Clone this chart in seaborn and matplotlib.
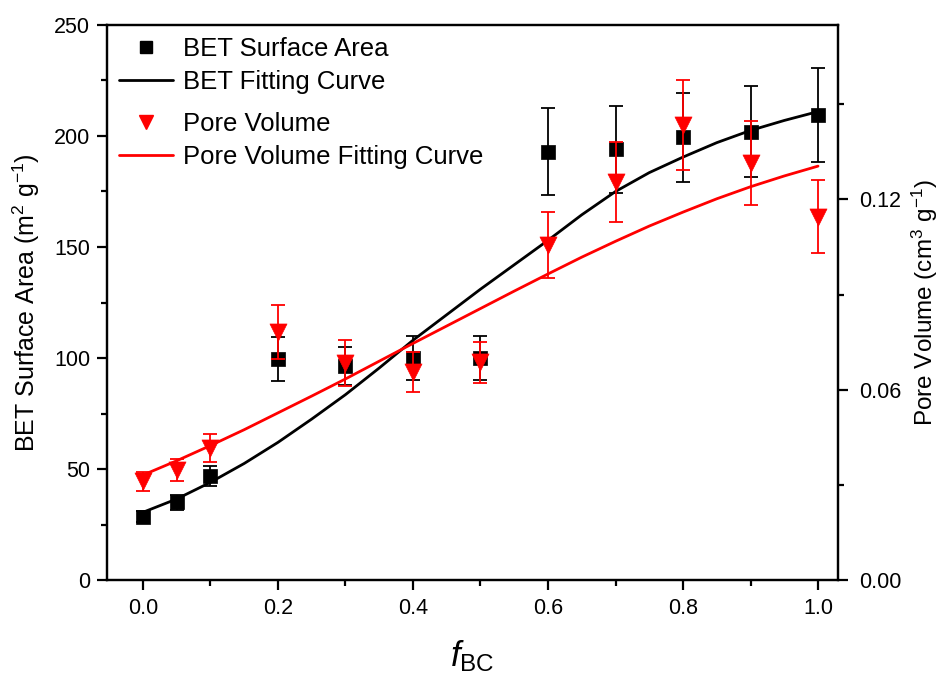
import numpy as np
import pandas as pd
import matplotlib
matplotlib.use("Agg")
import matplotlib.pyplot as plt
from matplotlib.ticker import MultipleLocator, FormatStrFormatter
from matplotlib.lines import Line2D
import seaborn as sns

# ---- data ----
f_bc = [0.0, 0.05, 0.1, 0.2, 0.3, 0.4, 0.5, 0.6, 0.7, 0.8, 0.9, 1.0]
bet_area = [28.5, 35, 47, 99.5, 96.5, 100, 100, 193, 194, 199.5, 202, 209.5]
bet_err = [2.5, 3.5, 4.5, 10, 8.5, 10, 10, 19.5, 19.5, 20, 20.5, 21]
pore_vol = [0.0312, 0.0347, 0.0416, 0.0782, 0.0684, 0.0656, 0.0687, 0.1056, 0.1256, 0.1435, 0.1314, 0.1146]
pore_err = [0.003, 0.0035, 0.0043, 0.0085, 0.0072, 0.0062, 0.0065, 0.0105, 0.0126, 0.0143, 0.0132, 0.0115]

fit_x = [0.0, 0.05, 0.1, 0.15, 0.2, 0.25, 0.3, 0.35, 0.4, 0.45, 0.5,
         0.55, 0.6, 0.65, 0.7, 0.75, 0.8, 0.85, 0.9, 0.95, 1.0]
bet_fit = [30.5, 36.5, 44, 52.5, 62, 72.5, 83.5, 95.5, 108, 119.5, 131,
           142, 153, 164.5, 175, 183.5, 190.5, 197, 202.5, 207, 211]
pore_fit = [0.0331, 0.0376, 0.0424, 0.0474, 0.0527, 0.058, 0.0634, 0.069, 0.0746, 0.0801, 0.0856,
            0.0911, 0.0965, 0.1018, 0.1068, 0.1116, 0.1160, 0.1202, 0.1240, 0.1274, 0.1305]

labels = ["BET Surface Area", "BET Fitting Curve", "Pore Volume", "Pore Volume Fitting Curve"]

pts = pd.DataFrame({"f": f_bc, "bet": bet_area, "pv": pore_vol})
fit = pd.DataFrame({"f": fit_x, "bet": bet_fit, "pv": pore_fit})

# ---- style ----
sns.set_theme(style="ticks")
plt.rcParams["font.family"] = ["Liberation Sans", "DejaVu Sans"]
plt.rcParams["mathtext.fontset"] = "custom"
plt.rcParams["mathtext.rm"] = "Liberation Sans"
plt.rcParams["mathtext.it"] = "Liberation Sans:italic"
plt.rcParams["mathtext.bf"] = "Liberation Sans:bold"
for k in ["text.color", "axes.labelcolor", "xtick.color", "ytick.color", "axes.edgecolor"]:
    plt.rcParams[k] = "black"

fig = plt.figure(figsize=(9.46, 6.82), dpi=100)
ax = fig.add_axes([107/946, 1-580/682, (838-107)/946, (580-25)/682])
ax2 = ax.twinx()

# BET
sns.lineplot(data=fit, x="f", y="bet", ax=ax, color="black", lw=2.0, zorder=2)
ax.errorbar(f_bc, bet_area, yerr=bet_err, fmt="none", ecolor="black",
            elinewidth=1.3, capsize=5, capthick=1.3, zorder=3)
sns.scatterplot(data=pts, x="f", y="bet", ax=ax, marker="s", s=95,
                color="black", edgecolor="black", linewidth=0.5, zorder=4)

# Pore volume
sns.lineplot(data=fit, x="f", y="pv", ax=ax2, color="red", lw=2.0, zorder=2)
ax2.errorbar(f_bc, pore_vol, yerr=pore_err, fmt="none", ecolor="red",
             elinewidth=1.3, capsize=5, capthick=1.3, zorder=3)
sns.scatterplot(data=pts, x="f", y="pv", ax=ax2, marker="v", s=150,
                color="red", edgecolor="red", linewidth=0.5, zorder=4)

# axes limits / ticks
ax.set_xlim(-0.0533, 1.0296)
ax.set_ylim(0, 250)
ax2.set_ylim(0, 0.175)

ax.xaxis.set_major_locator(MultipleLocator(0.2))
ax.xaxis.set_minor_locator(MultipleLocator(0.1))
ax.xaxis.set_major_formatter(FormatStrFormatter("%.1f"))
ax.yaxis.set_major_locator(MultipleLocator(50))
ax.yaxis.set_minor_locator(MultipleLocator(25))
ax2.yaxis.set_major_locator(MultipleLocator(0.06))
ax2.yaxis.set_minor_locator(MultipleLocator(0.03))
ax2.yaxis.set_major_formatter(FormatStrFormatter("%.2f"))

for a in (ax, ax2):
    for s in a.spines.values():
        s.set_linewidth(1.6)
        s.set_color("black")
    a.tick_params(which="major", length=7, width=1.6, labelsize=15.5, color="black",
                  direction="out", pad=5)
    a.tick_params(which="minor", length=4.5, width=1.6, color="black", direction="out")
ax.tick_params(axis="x", which="both", top=False)
ax.tick_params(axis="x", which="major", pad=6)
ax.tick_params(axis="y", which="both", right=False)
ax2.tick_params(axis="y", which="major", pad=8)

ax.set_xlabel(r"$\mathit{f}_{\mathrm{BC}}$", fontsize=25, labelpad=14)
ax.set_ylabel(r"BET Surface Area (m$^{2}$ g$^{-1}$)", fontsize=18, labelpad=9)
ax2.set_ylabel(r"Pore Volume (cm$^{3}$ g$^{-1}$)", fontsize=17.5, labelpad=6)

# legends
h1 = [Line2D([], [], ls="none", marker="s", color="black", markersize=8),
      Line2D([], [], color="black", lw=2.0)]
h2 = [Line2D([], [], ls="none", marker="v", color="red", markersize=10),
      Line2D([], [], color="red", lw=2.0)]
leg_kw = dict(loc="upper left", frameon=False, fontsize=18.5, handlelength=2.1,
              handletextpad=0.42, labelspacing=0.36, borderaxespad=0.05)
leg1 = ax2.legend(h1, labels[:2], bbox_to_anchor=(0.0, 1.0), **leg_kw)
ax2.add_artist(leg1)
ax2.legend(h2, labels[2:], bbox_to_anchor=(0.0, 0.864), **leg_kw)

fig.savefig("out.png", dpi=100)
